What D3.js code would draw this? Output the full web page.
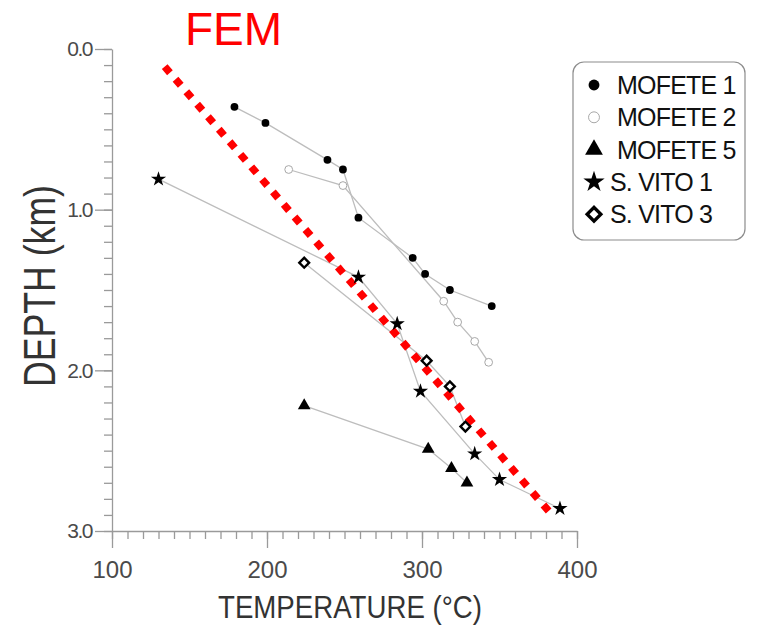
<!DOCTYPE html>
<html>
<head>
<meta charset="utf-8">
<script src="https://cdn.jsdelivr.net/npm/d3@7"></script>
<style>
  body { margin: 0; background: #fff; }
  svg { display: block; font-family: "Liberation Sans", Arial, sans-serif; }
</style>
</head>
<body>
<script>
// series: temperature (°C) and depth (km)
const mofete1Temp  = [179, 199, 239, 249, 259, 294, 302, 318, 345];
const mofete1Depth = [0.36, 0.46, 0.69, 0.75, 1.05, 1.30, 1.40, 1.50, 1.60];
const mofete2Temp  = [214, 249, 314, 323, 334, 343];
const mofete2Depth = [0.75, 0.85, 1.57, 1.70, 1.82, 1.95];
const mofete5Temp  = [224, 304, 319, 329];
const mofete5Depth = [2.22, 2.49, 2.61, 2.70];
const svito1Temp   = [130, 259, 284, 299, 334, 350, 389];
const svito1Depth  = [0.81, 1.42, 1.71, 2.13, 2.52, 2.68, 2.86];
const svito3Temp   = [224, 303, 318, 328];
const svito3Depth  = [1.33, 1.94, 2.10, 2.35];
const femTemp  = [134, 383];
const femDepth = [0.11, 2.89];

const seriesNames = ["MOFETE 1", "MOFETE 2", "MOFETE 5", "S. VITO 1", "S. VITO 3"];
const xTicks = [100, 200, 300, 400];
const yTicks = [0, 1, 2, 3];

const W = 757, H = 628;
const svg = d3.select("body").append("svg")
  .attr("width", W).attr("height", H);

const x = d3.scaleLinear().domain([100, 400]).range([112, 577]);
const y = d3.scaleLinear().domain([0, 3]).range([49, 531]);

const axisColor = "#9a9a9a";

// minor ticks
svg.append("g")
  .attr("transform", "translate(0,531)")
  .call(d3.axisBottom(x).tickValues(d3.range(100, 401, 10)).tickSize(8).tickSizeOuter(0).tickFormat(""))
  .call(g => g.selectAll("line,path").attr("stroke", axisColor).attr("stroke-width", 1.3));
svg.append("g")
  .attr("transform", "translate(112,0)")
  .call(d3.axisLeft(y).tickValues(d3.range(0, 3.001, 0.1)).tickSize(8).tickSizeOuter(0).tickFormat(""))
  .call(g => g.selectAll("line,path").attr("stroke", axisColor).attr("stroke-width", 1.3));

// major ticks + labels
svg.append("g")
  .attr("transform", "translate(0,531)")
  .call(d3.axisBottom(x).tickValues(xTicks).tickSize(17).tickSizeOuter(0).tickPadding(13))
  .call(g => g.select(".domain").remove())
  .call(g => g.selectAll("line").attr("stroke", axisColor).attr("stroke-width", 1.3))
  .call(g => g.selectAll("text").attr("fill", "#4a4a4a").attr("font-size", 24)
      .attr("font-family", "Liberation Sans, Arial, sans-serif"));
svg.append("g")
  .attr("transform", "translate(112,0)")
  .call(d3.axisLeft(y).tickValues(yTicks).tickSize(17).tickSizeOuter(0).tickPadding(3).tickFormat(d3.format(".1f")))
  .call(g => g.select(".domain").remove())
  .call(g => g.selectAll("line").attr("stroke", axisColor).attr("stroke-width", 1.3))
  .call(g => g.selectAll("text").attr("fill", "#4a4a4a").attr("font-size", 21).attr("letter-spacing", -1.5)
      .attr("font-family", "Liberation Sans, Arial, sans-serif"));

// axis titles
svg.append("text")
  .attr("x", 218).attr("y", 618)
  .attr("font-size", 31).attr("fill", "#333")
  .attr("textLength", 264).attr("lengthAdjust", "spacingAndGlyphs")
  .text("TEMPERATURE (°C)");
svg.append("text")
  .attr("transform", "translate(55,387) rotate(-90)")
  .attr("font-size", 44).attr("fill", "#333")
  .attr("textLength", 202).attr("lengthAdjust", "spacingAndGlyphs")
  .text("DEPTH (km)");

// FEM
svg.append("text")
  .attr("x", 185).attr("y", 45)
  .attr("font-size", 46).attr("fill", "#ff0000")
  .text("FEM");

const line = d3.line().x(d => x(d[0])).y(d => y(d[1]));
const pairs = (t, dd) => t.map((v, i) => [v, dd[i]]);

const series = [
  { name: seriesNames[0], pts: pairs(mofete1Temp, mofete1Depth), sym: "circle" },
  { name: seriesNames[1], pts: pairs(mofete2Temp, mofete2Depth), sym: "open" },
  { name: seriesNames[2], pts: pairs(mofete5Temp, mofete5Depth), sym: "triangle" },
  { name: seriesNames[3], pts: pairs(svito1Temp, svito1Depth), sym: "star" },
  { name: seriesNames[4], pts: pairs(svito3Temp, svito3Depth), sym: "diamond" }
];

// connecting lines
series.forEach(s => {
  svg.append("path")
    .attr("d", line(s.pts))
    .attr("fill", "none")
    .attr("stroke", "#bdbdbd")
    .attr("stroke-width", 1.3);
});

function drawMarker(g, sym, scale) {
  if (sym == "circle") {
    g.append("circle").attr("r", 3.9 * scale).attr("fill", "#000");
  } else if (sym == "open") {
    g.append("circle").attr("r", 3.9 * scale).attr("fill", "#fff").attr("stroke", "#a8a8a8").attr("stroke-width", 1);
  } else if (sym == "triangle") {
    g.append("path").attr("d", d3.symbol(d3.symbolTriangle, 70 * scale * scale)()).attr("fill", "#000");
  } else if (sym == "star") {
    g.append("path").attr("d", d3.symbol(d3.symbolStar, 72 * scale * scale)()).attr("fill", "#000");
  } else if (sym == "diamond") {
    g.append("path").attr("d", d3.symbol(d3.symbolSquare, 48 * scale * scale)())
      .attr("transform", "rotate(45)")
      .attr("fill", "#fff").attr("stroke", "#000").attr("stroke-width", 2.4 * scale);
  }
}

// FEM red dotted line (drawn under markers)
svg.append("path")
  .attr("d", line(pairs(femTemp, femDepth)))
  .attr("fill", "none")
  .attr("stroke", "#ff0000")
  .attr("stroke-width", 7.5)
  .attr("stroke-dasharray", "8 8.55");

series.forEach(s => {
  svg.selectAll(null)
    .data(s.pts)
    .enter()
    .append("g")
      .attr("transform", d => `translate(${x(d[0])},${y(d[1])})`)
      .each(function() { drawMarker(d3.select(this), s.sym, 1); });
});

// legend
const legend = svg.append("g");
legend.append("rect")
  .attr("x", 573).attr("y", 62).attr("width", 172).attr("height", 178)
  .attr("rx", 11).attr("fill", "#fff").attr("stroke", "#8c8c8c").attr("stroke-width", 1.2);
series.forEach((s, i) => {
  const cy = 85 + i * 32.3;
  const m = legend.append("g").attr("transform", `translate(594,${cy})`);
  drawMarker(m, s.sym, 1.4);
  legend.append("text")
    .attr("x", s.name.startsWith("S.") ? 610 : 617)
    .attr("y", cy + 9)
    .attr("font-size", 25).attr("fill", "#111")
    .attr("letter-spacing", -0.8)
    .text(s.name);
});
</script>
</body>
</html>
